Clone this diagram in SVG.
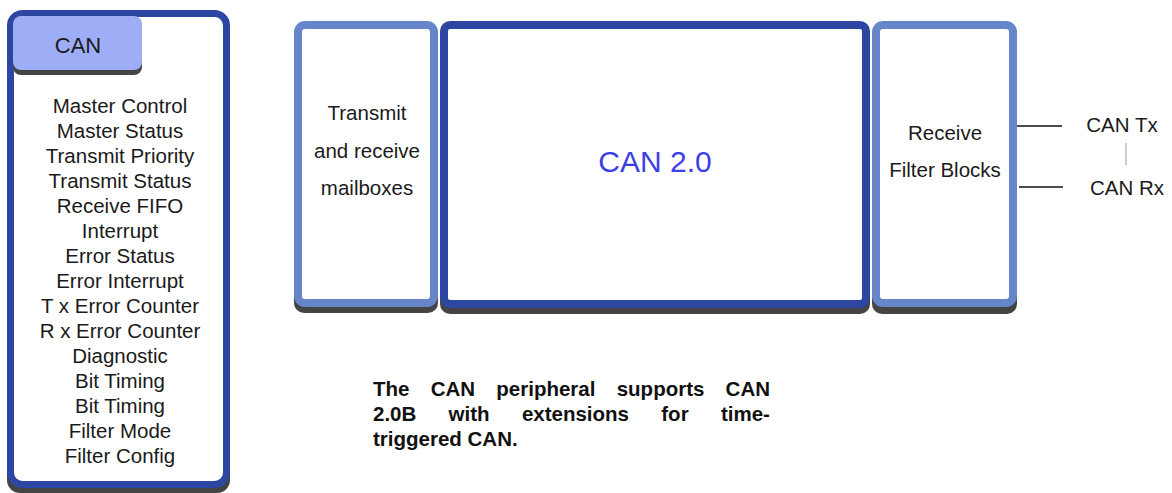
<svg xmlns="http://www.w3.org/2000/svg" width="1172" height="493" viewBox="0 0 1172 493">
<style>
.t{font-family:"Liberation Sans",Arial,sans-serif;font-size:20.5px;fill:#1a1a1a;text-anchor:middle}
.b{font-family:"Liberation Sans",Arial,sans-serif;font-size:20.5px;font-weight:bold;fill:#111}
.sh{fill:#444}
.dark{fill:#fff;stroke:#2d46a2;stroke-width:8}
.light{fill:#fff;stroke:#6786c9;stroke-width:8}
.wire{stroke:#111;stroke-width:1.6}
</style>
<rect width="1172" height="493" fill="#fff"/>
<g id="can-registers">
<rect class="sh" x="7" y="15" width="223" height="478" rx="13"/>
<rect x="10.5" y="13.5" width="216" height="471" rx="12" fill="#fff" stroke="#2d46a2" stroke-width="7"/>
<rect class="sh" x="13" y="21" width="129" height="54" rx="8"/>
<rect x="13" y="16" width="129" height="54" rx="8" fill="#9dadf6"/>
<text class="t" x="78" y="53" style="font-size:22px">CAN</text>
<text class="t" x="120" y="113">Master Control</text>
<text class="t" x="120" y="138">Master Status</text>
<text class="t" x="120" y="163">Transmit Priority</text>
<text class="t" x="120" y="188">Transmit Status</text>
<text class="t" x="120" y="213">Receive FIFO</text>
<text class="t" x="120" y="238">Interrupt</text>
<text class="t" x="120" y="263">Error Status</text>
<text class="t" x="120" y="288">Error Interrupt</text>
<text class="t" x="120" y="313">T x Error Counter</text>
<text class="t" x="120" y="338">R x Error Counter</text>
<text class="t" x="120" y="363">Diagnostic</text>
<text class="t" x="120" y="388">Bit Timing</text>
<text class="t" x="120" y="413">Bit Timing</text>
<text class="t" x="120" y="438">Filter Mode</text>
<text class="t" x="120" y="463">Filter Config</text>
</g>
<g id="mailboxes">
<rect class="sh" x="294" y="27" width="144" height="286" rx="10"/>
<rect class="light" x="298" y="25" width="136" height="278" rx="7"/>
<text class="t" x="367" y="120">Transmit</text>
<text class="t" x="367" y="158">and receive</text>
<text class="t" x="367" y="195">mailboxes</text>
</g>
<g id="can20">
<rect class="sh" x="440" y="27" width="430" height="287" rx="10"/>
<rect class="dark" x="444" y="25" width="422" height="279" rx="6"/>
<text x="655" y="172" style="font-family:'Liberation Sans',Arial,sans-serif;font-size:30px;fill:#3b40e6;text-anchor:middle">CAN 2.0</text>
</g>
<g id="filters">
<rect class="sh" x="872" y="27" width="145" height="287" rx="10"/>
<rect class="light" x="876" y="25" width="137" height="278" rx="7"/>
<text class="t" x="945" y="140">Receive</text>
<text class="t" x="945" y="177">Filter Blocks</text>
</g>
<g id="connectors">
<line class="wire" x1="1017" y1="126" x2="1062" y2="126"/>
<line class="wire" x1="1019" y1="187" x2="1063" y2="187"/>
<line x1="1126" y1="143" x2="1126" y2="165" stroke="#aaa" stroke-width="1.2"/>
</g>
<g id="pins">
<text class="t" x="1122" y="132">CAN Tx</text>
<text class="t" x="1127" y="195">CAN Rx</text>
</g>
<g id="caption">
<text class="b" y="395.5"><tspan x="373">The</tspan><tspan x="430.7">CAN</tspan><tspan x="496.3">peripheral</tspan><tspan x="616.7">supports</tspan><tspan x="725.6">CAN</tspan></text>
<text class="b" y="420.5"><tspan x="373">2.0B</tspan><tspan x="448.6">with</tspan><tspan x="521.9">extensions</tspan><tspan x="661.3">for</tspan><tspan x="720.9">time-</tspan></text>
<text class="b" x="373" y="445.5">triggered CAN.</text>
</g>
</svg>
